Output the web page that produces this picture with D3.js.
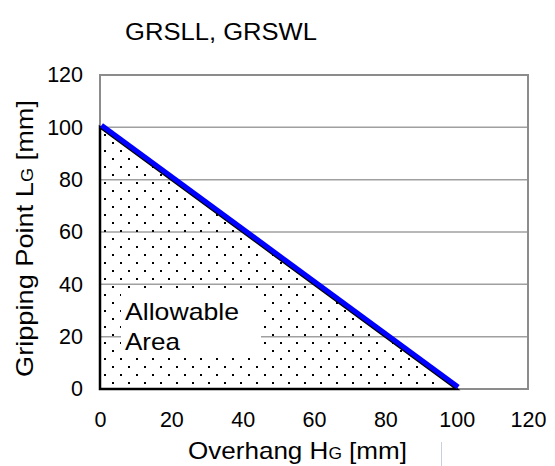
<!DOCTYPE html>
<html><head><meta charset="utf-8">
<script src="https://cdn.jsdelivr.net/npm/d3@7"></script>
<style>body{margin:0;background:#fff}svg{display:block}text{font-family:"Liberation Sans",Arial,sans-serif}</style>
</head><body>
<script>
const title = "GRSLL, GRSWL";
const xTicks = [0,20,40,60,80,100,120];
const yTicks = [0,20,40,60,80,100,120];
const boundaryX = [0,100];
const boundaryY = [100,0];
const areaLabel = ["Allowable","Area"];

const W=555,H=466;
const svg=d3.select("body").append("svg").attr("width",W).attr("height",H);
const x=d3.scaleLinear().domain([0,120]).range([100,528]);
const y=d3.scaleLinear().domain([0,120]).range([389,75]);

const defs=svg.append("defs");
const pat=defs.append("pattern").attr("id","dots").attr("patternUnits","userSpaceOnUse")
  .attr("width",16).attr("height",16).attr("x",104).attr("y",86);
pat.append("rect").attr("x",0).attr("y",0).attr("width",2).attr("height",2).attr("fill","#000");
pat.append("rect").attr("x",8).attr("y",8).attr("width",2).attr("height",2).attr("fill","#000");

// title
svg.append("text").attr("x",125).attr("y",40).attr("font-size",23)
  .attr("textLength",192).attr("lengthAdjust","spacingAndGlyphs").attr("fill","#000").text(title);

// gridlines
svg.append("g").selectAll("line").data(yTicks.filter(d=>d>0&&d<120)).join("line")
  .attr("x1",x(0)).attr("x2",x(120)).attr("y1",d=>y(d)).attr("y2",d=>y(d))
  .attr("stroke","#a0a0a0").attr("stroke-width",1.5);
// frame
svg.append("rect").attr("x",x(0)).attr("y",y(120)).attr("width",x(120)-x(0)).attr("height",y(0)-y(120))
  .attr("fill","none").attr("stroke","#8c8c8c").attr("stroke-width",2);

// allowable area
const tri=[[0,0],[boundaryX[0],boundaryY[0]],[boundaryX[1],boundaryY[1]]];
svg.append("path").attr("d","M"+tri.map(p=>[x(p[0]),y(p[1])].join(",")).join("L")+"Z")
  .attr("fill","url(#dots)").attr("stroke","#000").attr("stroke-width",2.5).attr("stroke-linejoin","miter");

// label box
svg.append("rect").attr("x",121).attr("y",294).attr("width",140).attr("height",63).attr("fill","#fff");
svg.append("text").attr("x",125).attr("y",320).attr("font-size",24)
  .attr("textLength",114).attr("lengthAdjust","spacingAndGlyphs").text(areaLabel[0]);
svg.append("text").attr("x",125).attr("y",350).attr("font-size",24)
  .attr("textLength",55).attr("lengthAdjust","spacingAndGlyphs").text(areaLabel[1]);

// blue boundary
svg.append("line").attr("x1",x(boundaryX[0])).attr("y1",y(boundaryY[0])).attr("x2",x(boundaryX[1])).attr("y2",y(boundaryY[1]))
  .attr("transform","translate(1.5,-2)").attr("stroke","#0000ff").attr("stroke-width",5);

// axes
const xa=svg.append("g").attr("transform",`translate(0,${y(0)})`).call(d3.axisBottom(x).tickValues(xTicks).tickSize(0).tickPadding(23));
xa.select(".domain").remove();
xa.selectAll("text").attr("font-size",21.5).attr("fill","#000").attr("font-family","Liberation Sans, Arial, sans-serif");
const ya=svg.append("g").attr("transform",`translate(${x(0)},0)`).call(d3.axisLeft(y).tickValues(yTicks).tickSize(0).tickPadding(17));
ya.select(".domain").remove();
ya.selectAll("text").attr("font-size",21.5).attr("fill","#000").attr("font-family","Liberation Sans, Arial, sans-serif");

// axis titles
const xt=svg.append("text").attr("x",188).attr("y",459).attr("font-size",24)
  .attr("textLength",219).attr("lengthAdjust","spacingAndGlyphs");
xt.append("tspan").text("Overhang H");
xt.append("tspan").attr("font-size",16).text("G");
xt.append("tspan").text(" [mm]");
const yt=svg.append("text").attr("transform","translate(33,377) rotate(-90)").attr("font-size",24)
  .attr("textLength",277).attr("lengthAdjust","spacingAndGlyphs");
yt.append("tspan").text("Gripping Point L");
yt.append("tspan").attr("font-size",16).text("G");
yt.append("tspan").text(" [mm]");

// small artifact line
svg.append("line").attr("x1",441.5).attr("x2",441.5).attr("y1",442).attr("y2",466).attr("stroke","#c8d0e0").attr("stroke-width",1);
</script>
</body></html>
